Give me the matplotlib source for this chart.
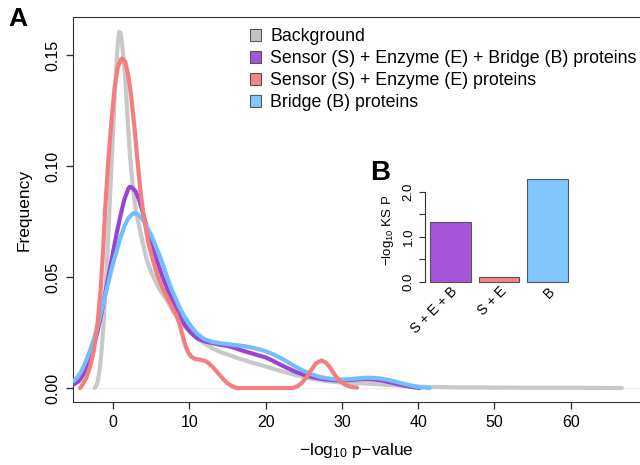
import matplotlib
matplotlib.use("Agg")
import matplotlib.pyplot as plt
from matplotlib.patches import Patch

plt.rcParams['font.family'] = ['Liberation Sans', 'DejaVu Sans']
plt.rcParams['mathtext.fontset'] = 'custom'
plt.rcParams['mathtext.rm'] = 'Liberation Sans'
plt.rcParams['mathtext.it'] = 'Liberation Sans'

# density curves: x = -log10 p, y = frequency
bg_x = [-2.4, -2.2, -2.0, -1.8, -1.6, -1.4, -1.2, -1.0, -0.8, -0.6, -0.4, -0.2, 0.0, 0.2, 0.4,
        0.6, 0.8, 1.0, 1.2, 1.4, 1.6, 1.8, 2.0, 2.2, 2.5, 2.8, 3.0, 3.3, 3.6, 4.0, 4.4, 4.8, 5.3,
        6.0, 7.0, 8.0, 9.0, 10.0, 11.0, 12.0, 13.0, 14.0, 15.3, 16.5, 18.0, 19.0, 20.0, 21.0, 22.0,
        23.0, 24.0, 25.0, 26.0, 28.0, 30.0, 32.0, 34.0, 36.0, 38.0, 40.0, 45.0, 50.0, 55.0, 60.0,
        66.7]
bg_y = [0.0, 0.001, 0.003, 0.007, 0.013, 0.021, 0.031, 0.043, 0.056, 0.07, 0.085, 0.1, 0.115,
        0.13, 0.143, 0.154, 0.1605, 0.16, 0.155, 0.148, 0.139, 0.128, 0.117, 0.106, 0.094, 0.085,
        0.08, 0.075, 0.07, 0.064, 0.058, 0.054, 0.05, 0.045, 0.04, 0.034, 0.029, 0.0255, 0.0225,
        0.02, 0.018, 0.0163, 0.0148, 0.0133, 0.0117, 0.0107, 0.0097, 0.0087, 0.0077, 0.0067,
        0.0058, 0.0049, 0.0042, 0.0031, 0.0025, 0.0022, 0.0019, 0.0014, 0.001, 0.0006, 0.0003,
        0.0002, 0.0001, 0.0001, 0.0]

seb_x = [-5.2, -4.5, -4.0, -3.5, -3.0, -2.5, -2.0, -1.5, -1.0, -0.5, 0.0, 0.5, 1.0, 1.5, 2.0, 2.2,
         2.5, 3.0, 3.5, 4.0, 4.6, 5.2, 5.8, 6.5, 7.2, 8.0, 8.8, 9.5, 10.2, 11.0, 12.0, 13.0, 14.0,
         15.0, 16.0, 17.0, 18.0, 19.0, 20.0, 21.0, 22.0, 23.0, 24.0, 25.0, 26.0, 27.0, 28.0, 29.0,
         30.0, 31.0, 32.0, 33.0, 34.0, 35.0, 36.0, 37.0, 38.0, 39.0, 40.2]
seb_y = [0.0015, 0.003, 0.0055, 0.009, 0.0135, 0.019, 0.026, 0.034, 0.043, 0.052, 0.061, 0.07,
         0.078, 0.085, 0.0898, 0.0907, 0.0903, 0.0885, 0.084, 0.078, 0.07, 0.063, 0.057, 0.05,
         0.044, 0.038, 0.032, 0.028, 0.025, 0.0225, 0.021, 0.0203, 0.0195, 0.019, 0.018, 0.0168,
         0.0158, 0.0148, 0.0138, 0.0122, 0.0104, 0.0088, 0.0072, 0.006, 0.005, 0.0043, 0.0038,
         0.0035, 0.0034, 0.0036, 0.0039, 0.004, 0.0039, 0.0035, 0.0028, 0.002, 0.0012, 0.0006, 0.0]

se_x = [-4.3, -4.0, -3.5, -3.0, -2.5, -2.0, -1.6, -1.3, -1.0, -0.6, -0.2, 0.2, 0.6, 1.0, 1.22,
        1.6, 2.0, 2.4, 2.8, 3.2, 3.6, 4.0, 4.6, 5.2, 5.8, 6.5, 7.2, 7.8, 8.3, 8.7, 9.1, 9.5, 9.9,
        10.3, 10.8, 11.4, 12.0, 12.5, 13.0, 13.5, 14.0, 14.5, 15.0, 15.5, 16.2, 20.0, 23.5, 24.2,
        24.8, 25.4, 26.0, 26.6, 27.3, 27.9, 28.5, 29.1, 29.8, 30.5, 31.2, 32.0]
se_y = [0.0, 0.0015, 0.0045, 0.0095, 0.017, 0.03, 0.045, 0.062, 0.082, 0.103, 0.12, 0.135, 0.144,
        0.148, 0.1485, 0.147, 0.141, 0.131, 0.118, 0.103, 0.089, 0.078, 0.066, 0.058, 0.051, 0.045,
        0.04, 0.036, 0.033, 0.029, 0.024, 0.019, 0.0158, 0.014, 0.0131, 0.0128, 0.0123, 0.0113,
        0.0098, 0.0078, 0.0058, 0.0038, 0.0022, 0.001, 0.0, 0.0, 0.0, 0.0008, 0.0025, 0.005,
        0.0082, 0.0111, 0.0124, 0.0115, 0.009, 0.0058, 0.003, 0.0013, 0.0005, 0.0002]

b_x = [-5.2, -4.5, -4.0, -3.5, -3.0, -2.5, -2.0, -1.5, -1.0, -0.5, 0.0, 0.5, 1.0, 1.5, 2.0, 2.66,
       3.2, 3.8, 4.4, 5.0, 5.6, 6.2, 6.8, 7.4, 8.0, 8.7, 9.4, 10.2, 11.0, 12.0, 13.0, 14.0, 15.0,
       16.0, 17.0, 18.0, 19.0, 20.0, 21.0, 22.0, 23.0, 24.0, 25.0, 26.0, 27.0, 28.0, 29.0, 30.0,
       31.0, 32.0, 33.0, 34.0, 35.0, 36.0, 37.0, 38.0, 39.0, 40.0, 41.5]
b_y = [0.003, 0.0055, 0.0085, 0.0125, 0.017, 0.022, 0.028, 0.035, 0.042, 0.049, 0.056, 0.062,
       0.068, 0.073, 0.0765, 0.0788, 0.0783, 0.0765, 0.073, 0.069, 0.064, 0.059, 0.053, 0.047,
       0.042, 0.0365, 0.032, 0.028, 0.0245, 0.022, 0.0208, 0.0202, 0.0198, 0.0194, 0.019, 0.0184,
       0.0176, 0.0166, 0.0152, 0.0135, 0.0115, 0.0095, 0.0077, 0.0062, 0.0051, 0.0044, 0.004,
       0.0038, 0.004, 0.0043, 0.0046, 0.0046, 0.0043, 0.0037, 0.0029, 0.002, 0.0012, 0.0005, 0.0]

# inset B
ks_labels = ["S + E + B", "S + E", "B"]
ks_values = [1.32, 0.10, 2.28]

legend_labels = ["Background",
                 "Sensor (S) + Enzyme (E) + Bridge (B) proteins",
                 "Sensor (S) + Enzyme (E) proteins",
                 "Bridge (B) proteins"]

c_bg, c_seb, c_se, c_b = "#c8c8c8", "#9a45d2", "#f47e7e", "#72bdfc"
f_bg, f_seb, f_se, f_b = "#c4c4c4", "#a755d8", "#f28585", "#80c6ff"

fig = plt.figure(figsize=(6.4, 4.65), dpi=100)
ax = fig.add_axes([73/640, 1 - 402/465, 1 - 73/640, (402 - 17)/465])

ax.axhline(0, color="#eeeeee", lw=1, zorder=1)
ax.plot(bg_x, bg_y, color=c_bg, lw=3, solid_capstyle="round", solid_joinstyle="round", zorder=2)
ax.plot(seb_x, seb_y, color=c_seb, lw=3, solid_capstyle="round", solid_joinstyle="round", zorder=3)
ax.plot(b_x, b_y, color=c_b, lw=3, solid_capstyle="round", solid_joinstyle="round", zorder=4)
ax.plot(se_x, se_y, color=c_se, lw=3, solid_capstyle="round", solid_joinstyle="round", zorder=5)

ax.set_xlim(-5.24, 69.07)
ax.set_ylim(-0.0063, 0.1672)
ax.set_xticks([0, 10, 20, 30, 40, 50, 60])
ax.set_yticks([0, 0.05, 0.10, 0.15])
ax.set_yticklabels(["0.00", "0.05", "0.10", "0.15"], rotation=90, va="center")
ax.tick_params(labelsize=11.5, length=5, width=1, color="#333333", pad=4)
for s in ["left", "bottom", "top"]:
    ax.spines[s].set_color("#333333")
ax.spines["right"].set_visible(False)
ax.set_ylabel("Frequency", fontsize=12.5, labelpad=10)
ax.set_xlabel(r"$-$log$_{10}$ p$-$value", fontsize=12.5, labelpad=8)

handles = [Patch(facecolor=f, edgecolor="#555555", lw=0.8) for f in [f_bg, f_seb, f_se, f_b]]
leg = ax.legend(handles, legend_labels, loc="upper left", frameon=False, fontsize=12.8,
                handlelength=0.62, handleheight=0.62, handletextpad=0.5, labelspacing=0.28,
                borderaxespad=0.3)
leg.set_bbox_to_anchor((238/640, 1 - 16/465), transform=fig.transFigure)

# inset bar chart
ax2 = fig.add_axes([424.5/640, 1 - 285.8/465, 149/640, 110.8/465])
pos = [0.7, 1.9, 3.1]
ax2.bar(pos, ks_values, width=1.0, color=[f_seb, f_se, f_b], edgecolor="#555555", lw=0.8)
ax2.set_xlim(0.064, 3.736)
ax2.set_ylim(-0.091, 2.37)
for s in ["top", "right", "bottom"]:
    ax2.spines[s].set_visible(False)
ax2.spines["left"].set_bounds(0, 2)
ax2.spines["left"].set_color("#333333")
ax2.set_yticks([0, 0.5, 1.0, 1.5, 2.0])
ax2.set_yticklabels(["0.0", "", "1.0", "", "2.0"], rotation=90, va="center")
ax2.tick_params(axis="y", labelsize=9.5, length=4, width=0.8, color="#333333", pad=3)
ax2.set_xticks(pos)
ax2.set_xticklabels(ks_labels, rotation=45, ha="right", va="top", rotation_mode="anchor",
                    fontsize=10)
ax2.tick_params(axis="x", length=0, pad=-1)
ax2.patch.set_alpha(0)
ax2.set_ylabel(r"$-$log$_{10}$ KS P", fontsize=9.5, labelpad=5)

fig.text(8/640, 1 - 19/465, "A", fontsize=19, fontweight="bold", va="center", ha="left")
fig.text(370/640, 1 - 173/465, "B", fontsize=20, fontweight="bold", va="center", ha="left")

fig.savefig("out.png", dpi=100)
